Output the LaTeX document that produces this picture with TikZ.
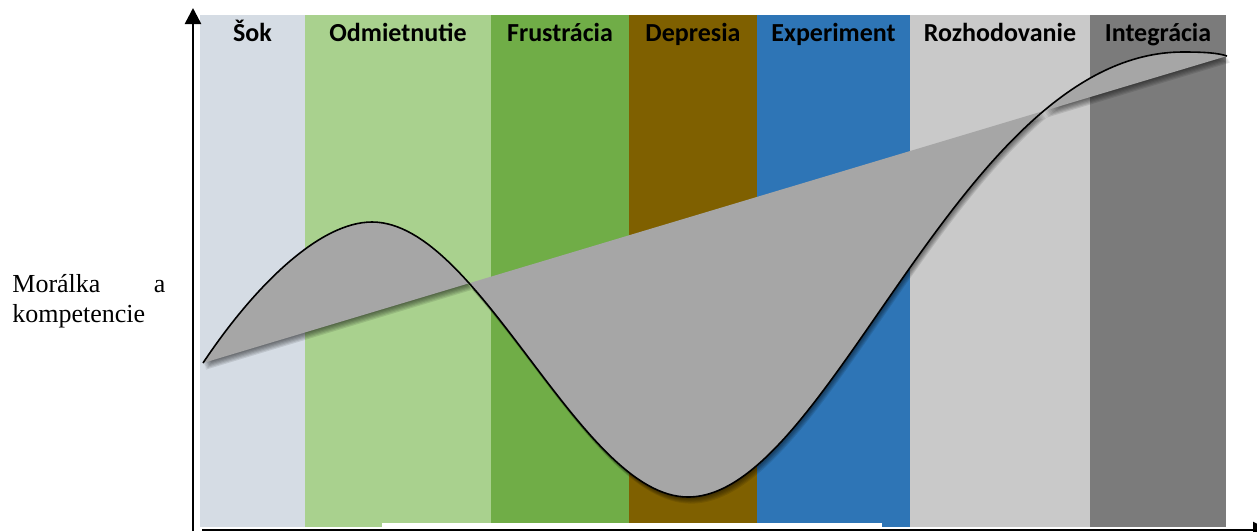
\documentclass[tikz,border=0pt]{standalone}
\usepackage{fontspec}
\setmainfont{Liberation Serif}
\newfontfamily\calibri{Carlito}
\usepackage{xcolor}
\usetikzlibrary{arrows.meta, positioning, calc}

\definecolor{sokc}{HTML}{D5DCE4}
\definecolor{odmc}{HTML}{A9D18E}
\definecolor{frusc}{HTML}{70AD47}
\definecolor{deprc}{HTML}{7F6000}
\definecolor{expc}{HTML}{2E75B6}
\definecolor{rozc}{HTML}{C9C9C9}
\definecolor{intc}{HTML}{7B7B7B}
\definecolor{wavec}{HTML}{A6A6A6}

\tikzset{
  phase/.style={anchor=base, inner sep=0pt, font=\calibri\bfseries\fontsize{13}{15}\selectfont},
  axis/.style={line width=1.25pt, -{Triangle[length=8pt,width=8pt]}},
  wavefill/.style={fill=wavec},
  waveshadow/.style={fill=black, opacity=0.1},
  wave/.style={line width=0.8pt, black}
}

\begin{document}
\begin{tikzpicture}[x=0.5pt, y=-0.5pt]
  \useasboundingbox (0,0) rectangle (1257,531);

  % phase bands with their titles
  \foreach \xa/\xb/\col/\lab [count=\i] in {200/305/sokc/Šok, 305/491/odmc/Odmietnutie,
      491/629/frusc/Frustrácia, 629/757/deprc/Depresia, 757/910/expc/Experiment,
      910/1090/rozc/Rozhodovanie, 1090/1226/intc/Integrácia}{
    \fill[\col] (\xa,15) rectangle (\xb,527);
    \node[phase] (ph\i) at ({(\xa+\xb)/2},41) {\lab};
  }

  % white strip over the bottom edge
  \fill[white] (382,523) rectangle (882,528);

  % wave: start, peak, trough, top, end
  \def\wavepath{(203,363) .. controls (255,285) and (320,222) .. (372,222)
    .. controls (480,222) and (580,497) .. (688,497)
    .. controls (830,497) and (960,52) .. (1183,52)
    .. controls (1205,52) and (1218,53) .. (1227,56)}

  % soft shadow (a few shifted copies)
  \foreach \d in {1,...,6}{
    \fill[waveshadow, shift={(0.5*\d,1.1*\d)}] \wavepath -- cycle;
  }
  % area between the wave and the straight trend
  \fill[wavefill] \wavepath -- cycle;
  \draw[wave] \wavepath;

  % axes
  \coordinate (ybot) at (193,531);
  \coordinate (ytop) at (193,8);
  \coordinate (xl) at (202,530);
  \coordinate (xr) at (1269,530);
  \draw[axis] (ybot) -- (ytop);
  \draw[axis] (xl) -- (xr);

  % y label
  \node[anchor=base west, inner sep=0pt, text width=76.5pt, align=left,
    font=\fontsize{13}{15}\selectfont] (ylab) at (12,292) {Morálka\hfill a\\kompetencie};
\end{tikzpicture}
\end{document}
